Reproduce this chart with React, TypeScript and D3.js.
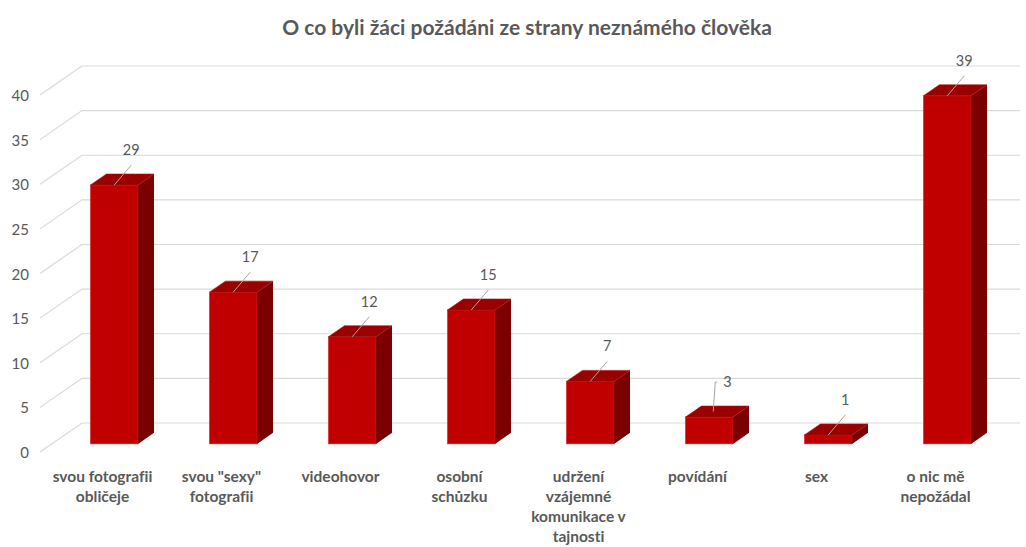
import React from "react";
import * as d3 from "d3";

// chart data
const categories = [
  "svou fotografii obličeje",
  "svou \"sexy\" fotografii",
  "videohovor",
  "osobní schůzku",
  "udržení vzájemné komunikace v tajnosti",
  "povídání",
  "sex",
  "o nic mě nepožádal",
];
const categoryLines = [
  ["svou fotografii", "obličeje"],
  ["svou \"sexy\"", "fotografii"],
  ["videohovor"],
  ["osobní", "schůzku"],
  ["udržení", "vzájemné", "komunikace v", "tajnosti"],
  ["povídání"],
  ["sex"],
  ["o nic mě", "nepožádal"],
];
const values = [29, 17, 12, 15, 7, 3, 1, 39];
const yTicks = [0, 5, 10, 15, 20, 25, 30, 35, 40];
const title = "O co byli žáci požádáni ze strany neznámého člověka";

const W = 1026;
const H = 547;
const floorFront = 452; // y of value 0 at the front edge
const depth = { dx: 42, dy: -29 }; // floor depth
const barStart = 0.28; // bar front sits this far into the depth
const barDepth = 0.38;
const gridLeft = 40;
const gridRight = 1020;
const textColor = "#595959";
const font = "Lato, 'Open Sans', sans-serif";

const x = d3.scaleBand<string>()
  .domain(categories)
  .range([43, 995])
  .paddingInner(0.6)
  .paddingOuter(0.3);

const y = d3.scaleLinear().domain([0, 40]).range([floorFront, floorFront - 357]);

export default function App() {
  const bw = x.bandwidth();
  const bdx = depth.dx * barDepth;
  const bdy = depth.dy * barDepth;
  return (
    <svg width={W} height={H} style={{ position: "absolute", left: 0, top: 0, background: "#fff", fontVariantLigatures: "none" }}>
      <text x={527} y={35} textAnchor="middle" fontFamily={font} fontWeight={700} fontSize={21} fill={textColor}>
        {title}
      </text>

      {/* grid: diagonal on the side wall, then horizontal on the back wall */}
      <g stroke="#d9d9d9" strokeWidth={1.2} fill="none">
        {yTicks.map((t) => {
          const yf = y(t);
          const yb = yf + depth.dy;
          return (
            <path key={t} d={`M${gridLeft},${yf}L${gridLeft + depth.dx},${yb}L${gridRight},${yb}`} />
          );
        })}
      </g>

      {yTicks.map((t) => (
        <text key={t} x={29} y={y(t) + 6} textAnchor="end" fontFamily={font} fontSize={15} fill={textColor}>
          {t}
        </text>
      ))}

      {categories.map((c, i) => {
        const x0 = x(c)! + depth.dx * barStart;
        const yb = y(0) + depth.dy * barStart;
        const yt = yb - (y(0) - y(values[i]));
        const top = `M${x0},${yt}L${x0 + bw},${yt}L${x0 + bw + bdx},${yt + bdy}L${x0 + bdx},${yt + bdy}Z`;
        const side = `M${x0 + bw},${yt}L${x0 + bw + bdx},${yt + bdy}L${x0 + bw + bdx},${yb + bdy}L${x0 + bw},${yb}Z`;
        const cx = x0 + bw / 2;
        const lx = cx + 17;
        const ly = yt - 30;
        const leader = values[i] === 3
          ? `M${cx + 4},${yt + bdy / 2}L${cx + 6},${ly - 5}L${lx - 9},${ly - 5}`
          : `M${cx},${yt}L${lx},${ly + 10}`;
        return (
          <g key={c}>
            <rect x={x0} y={yt} width={bw} height={yb - yt} fill="#c00000" stroke="#d42a2a" strokeWidth={0.6} />
            <path d={side} fill="#7b0000" />
            <path d={top} fill="#990000" stroke="#a81010" strokeWidth={0.6} />
            <path d={leader} stroke="#a6a6a6" strokeWidth={1} fill="none" />
            <text x={values[i] === 3 ? lx - 3 : lx} y={ly} textAnchor={values[i] === 3 ? "start" : "middle"}
              fontFamily={font} fontSize={14.5} fill={textColor}>
              {values[i]}
            </text>
          </g>
        );
      })}

      {categories.map((c, i) => {
        const cx = x(c)! + bw / 2;
        return (
          <text key={c} x={cx} textAnchor="middle" fontFamily={font} fontWeight={700} fontSize={15.5} fill={textColor}>
            {categoryLines[i].map((l, j) => (
              <tspan key={j} x={cx} y={482 + j * 20}>{l}</tspan>
            ))}
          </text>
        );
      })}
    </svg>
  );
}
